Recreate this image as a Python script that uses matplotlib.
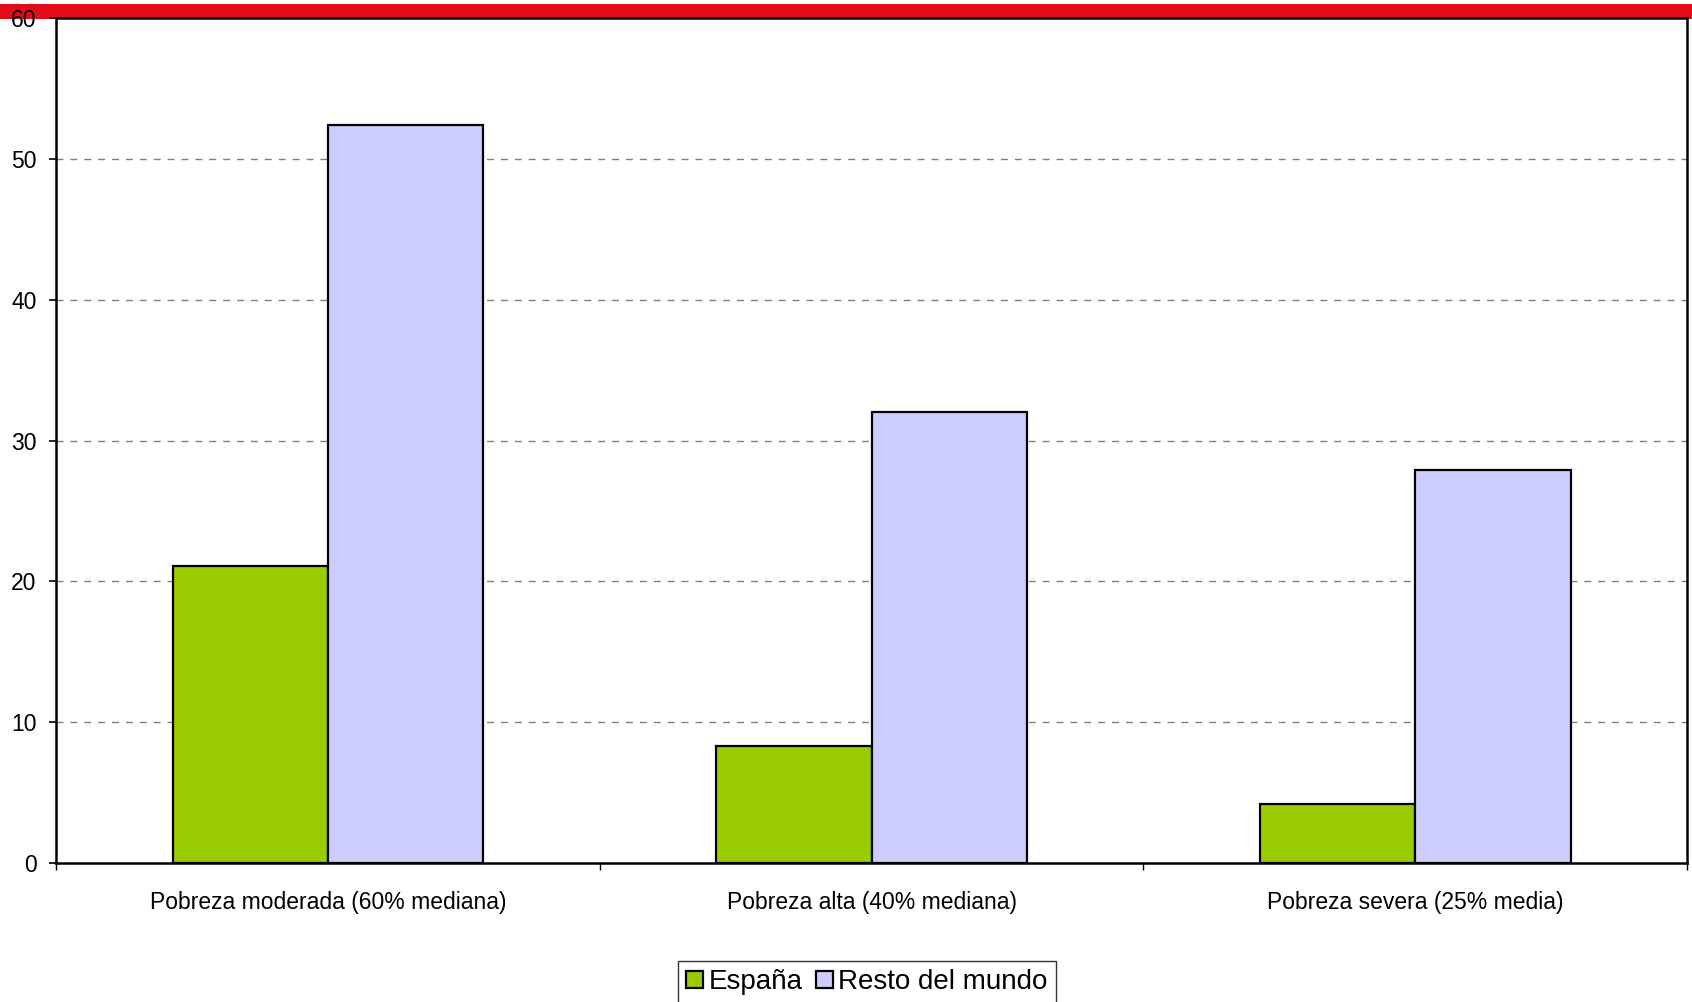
import numpy as np
import matplotlib
matplotlib.use('Agg')
import matplotlib.pyplot as plt
from matplotlib.patches import Rectangle

# datos
categorias = ['Pobreza moderada (60% mediana)', 'Pobreza alta (40% mediana)', 'Pobreza severa (25% media)']
espana = [21.1, 8.3, 4.2]
resto = [52.4, 32.0, 27.9]
series = ['España', 'Resto del mundo']
yticks = [0, 10, 20, 30, 40, 50, 60]

plt.rcParams['font.family'] = ['Liberation Sans', 'DejaVu Sans']

W, H = 1692, 1002
fig = plt.figure(figsize=(W / 100, H / 100), dpi=100)

# banda roja superior
fig.patches.append(Rectangle((0, 1 - 19 / H), 1, 15 / H, transform=fig.transFigure,
                             facecolor='#E30B17', edgecolor='none', zorder=0))

ax = fig.add_axes([56 / W, 1 - 863 / H, (1687 - 56) / W, (863 - 18) / H])
ax.set_zorder(1)

x = np.arange(len(categorias))
ancho = 1 / 3.5  # gap width 150%
ax.bar(x - ancho / 2, espana, ancho, color='#99CC00', edgecolor='black', linewidth=1.6,
       label=series[0], zorder=3)
ax.bar(x + ancho / 2, resto, ancho, color='#CCCCFF', edgecolor='black', linewidth=1.6,
       label=series[1], zorder=3)

ax.set_xlim(-0.5, len(categorias) - 0.5)
ax.set_ylim(0, 60)
ax.set_yticks(yticks)
ax.set_yticklabels([str(v) for v in yticks], fontsize=16.5)

# ticks en los limites de categoria, etiquetas al centro
ax.set_xticks(np.arange(len(categorias) + 1) - 0.5)
ax.set_xticklabels([])
ax.set_xticks(x, minor=True)
ax.set_xticklabels(categorias, minor=True, fontsize=16.5)
ax.tick_params(axis='x', which='minor', length=0, pad=20)
ax.tick_params(axis='x', which='major', length=5, width=1, color='black')
ax.tick_params(axis='y', length=5, width=1.2, pad=9)

for v in yticks[1:-1]:
    ax.axhline(v, color='#808080', linewidth=1, dashes=(5, 5), zorder=1)

for s in ax.spines.values():
    s.set_linewidth(1.8)
    s.set_color('black')

leg = fig.legend(loc='upper center', bbox_to_anchor=(867 / W, 1 - 961 / H), ncol=2,
                 fontsize=20, frameon=True, fancybox=False, handlelength=0.6,
                 handleheight=0.6, handletextpad=0.2, columnspacing=0.5,
                 borderpad=0.3, borderaxespad=0)
leg.get_frame().set_edgecolor('black')
leg.get_frame().set_linewidth(1)

fig.savefig('out.png', dpi=100, facecolor='white')
